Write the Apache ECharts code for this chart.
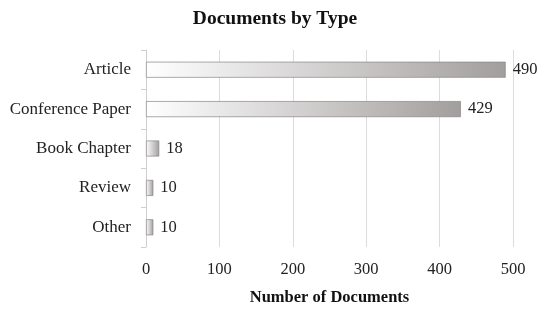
<!DOCTYPE html>
<html>
<head>
<meta charset="utf-8">
<script src="https://cdn.jsdelivr.net/npm/echarts@6/dist/echarts.min.js"></script>
<style>
  html, body { margin: 0; padding: 0; background: #fff; }
  #chart { width: 550px; height: 311px; }
</style>
</head>
<body>
<div id="chart"></div>
<script>
// categories top to bottom (axis is inverted)
var docTypes = ['Article', 'Conference Paper', 'Book Chapter', 'Review', 'Other'];
var docCounts = [490, 429, 18, 10, 10];
var xTicks = [0, 100, 200, 300, 400, 500];

var serif = '"Liberation Serif", "DejaVu Serif", serif';

var chart = echarts.init(document.getElementById('chart'));
chart.setOption({
    backgroundColor: '#ffffff',
    animation: false,
    title: {
        text: 'Documents by Type',
        left: 'center',
        top: 4,
        textStyle: { fontFamily: serif, fontSize: 19.5, fontWeight: 'bold', color: '#111' }
    },
    grid: { left: 146, right: 37, top: 50, bottom: 63 },
    xAxis: {
        type: 'value',
        min: xTicks[0],
        max: xTicks[xTicks.length - 1],
        interval: 100,
        name: 'Number of Documents',
        nameLocation: 'middle',
        nameGap: 42,
        nameTextStyle: { fontFamily: serif, fontSize: 16.5, fontWeight: 'bold', color: '#111' },
        axisLine: { show: false },
        axisTick: { show: false },
        axisLabel: { fontFamily: serif, fontSize: 16.5, color: '#222', margin: 14 },
        splitLine: { show: true, lineStyle: { color: '#dcdcdc', width: 1 } }
    },
    yAxis: {
        type: 'category',
        inverse: true,
        data: docTypes,
        axisLine: { show: true, lineStyle: { color: '#cfcfcf', width: 1 } },
        axisTick: { show: true, length: 5, lineStyle: { color: '#cfcfcf' } },
        axisLabel: { fontFamily: serif, fontSize: 17, color: '#222', margin: 15 }
    },
    series: [{
        type: 'bar',
        data: docCounts,
        barWidth: 16,
        itemStyle: {
            color: new echarts.graphic.LinearGradient(0, 0, 1, 0, [
                { offset: 0, color: '#ffffff' },
                { offset: 1, color: '#a39e9e' }
            ]),
            borderColor: '#8a8585',
            borderWidth: 0.7
        },
        label: {
            show: true,
            position: 'right',
            distance: 7,
            fontFamily: serif,
            fontSize: 16.5,
            color: '#222'
        }
    }]
});
</script>
</body>
</html>
